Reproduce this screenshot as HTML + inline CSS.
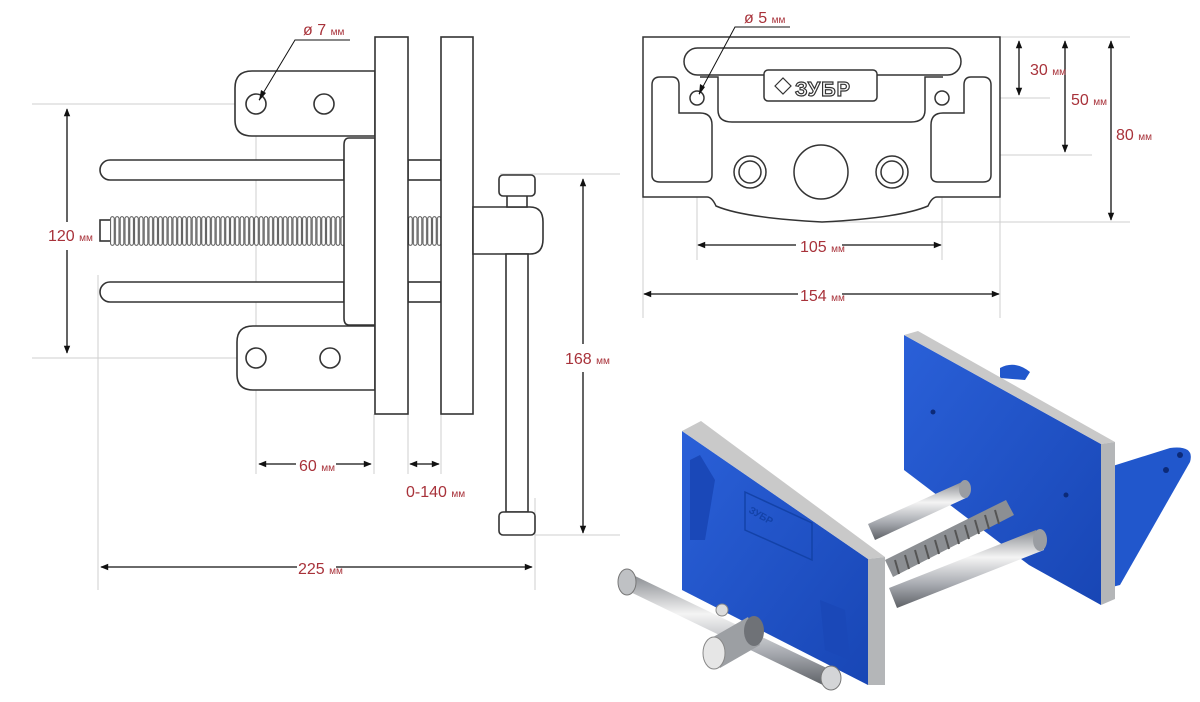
<!DOCTYPE html>
<html><head><meta charset="utf-8">
<style>
html,body{margin:0;padding:0;background:#fff;}
svg{display:block;}
.t{font-family:"Liberation Sans Narrow","Liberation Sans",sans-serif;fill:#a8323a;}
</style></head>
<body>
<svg width="1200" height="702" viewBox="0 0 1200 702" xmlns="http://www.w3.org/2000/svg">
<defs>
<pattern id="thr" x="110" y="216" width="4.8" height="30" patternUnits="userSpaceOnUse">
<rect x="0" y="0" width="4.8" height="30" fill="#fff"/>
<rect x="0.6" y="0.7" width="3.6" height="28.6" rx="1.8" fill="#fff" stroke="#444" stroke-width="0.9"/>
</pattern>
<pattern id="thr2" x="408" y="216" width="4.8" height="30" patternUnits="userSpaceOnUse">
<rect x="0" y="0" width="4.8" height="30" fill="#fff"/>
<rect x="0.6" y="0.7" width="3.6" height="28.6" rx="1.8" fill="#fff" stroke="#444" stroke-width="0.9"/>
</pattern>
<marker id="ar" viewBox="0 0 10 10" refX="9" refY="5" markerWidth="10" markerHeight="8" orient="auto-start-reverse" markerUnits="userSpaceOnUse">
<path d="M0,1 L10,5 L0,9 Z" fill="#111"/></marker>
<linearGradient id="sil" x1="0" y1="0" x2="0" y2="1"><stop offset="0" stop-color="#8a8d92"/><stop offset="0.35" stop-color="#f4f4f4"/><stop offset="0.7" stop-color="#a7aab0"/><stop offset="1" stop-color="#5e6166"/></linearGradient>
<linearGradient id="blu" x1="0" y1="0" x2="1" y2="1"><stop offset="0" stop-color="#2a60d8"/><stop offset="1" stop-color="#1846b5"/></linearGradient>
</defs>

<!-- ===== LEFT DRAWING ===== -->
<g stroke="#cfcfcf" stroke-width="1" fill="none">
<line x1="32" y1="104" x2="345" y2="104"/>
<line x1="32" y1="358" x2="345" y2="358"/>
<line x1="256" y1="92" x2="256" y2="474"/>
<line x1="98" y1="275" x2="98" y2="590"/>
<line x1="374" y1="414" x2="374" y2="474"/>
<line x1="408" y1="414" x2="408" y2="474"/>
<line x1="441" y1="414" x2="441" y2="474"/>
<line x1="535" y1="498" x2="535" y2="590"/>
<line x1="500" y1="174" x2="620" y2="174"/>
<line x1="535" y1="535" x2="620" y2="535"/>
</g>
<g stroke="#333" stroke-width="1.6" fill="#fff">
<path d="M110,160 L344,160 L344,180 L110,180 A10,10 0 0 1 110,160 Z"/>
<path d="M110,282 L344,282 L344,302 L110,302 A10,10 0 0 1 110,282 Z"/>
<rect x="408" y="160" width="33" height="20"/>
<rect x="408" y="282" width="33" height="20"/>
<rect x="100" y="220" width="11" height="21"/>
</g>
<rect x="110" y="216" width="234" height="30" fill="url(#thr)"/>
<rect x="408" y="216" width="33" height="30" fill="url(#thr2)"/>
<g stroke="#333" stroke-width="1.6" fill="#fff">
<path d="M375,71 L252,71 Q235,71 235,88 L235,120 Q235,136 252,136 L375,136 Z"/>
<path d="M375,326 L253,326 Q237,326 237,342 L237,374 Q237,390 253,390 L375,390 Z"/>
<circle cx="256" cy="104" r="10"/><circle cx="324" cy="104" r="10"/>
<circle cx="256" cy="358" r="10"/><circle cx="330" cy="358" r="10"/>
<path d="M375,138 L349,138 Q344,138 344,145 L344,318 Q344,325 349,325 L375,325 Z"/>
<rect x="375" y="37" width="33" height="377"/>
<rect x="441" y="37" width="32" height="377"/>
<path d="M473,207 L530,207 Q543,207 543,222 L543,239 Q543,254 530,254 L473,254 Z"/>
<rect x="506" y="254" width="22" height="258"/>
<rect x="507" y="195" width="20" height="12"/>
<rect x="499" y="175" width="36" height="21" rx="4"/>
<rect x="499" y="512" width="36" height="23" rx="4"/>
</g>
<g stroke="#111" stroke-width="1.3" fill="none">
<line x1="67" y1="109" x2="67" y2="222" marker-start="url(#ar)"/>
<line x1="67" y1="250" x2="67" y2="353" marker-end="url(#ar)"/>
<line x1="259" y1="464" x2="296" y2="464" marker-start="url(#ar)"/>
<line x1="336" y1="464" x2="371" y2="464" marker-end="url(#ar)"/>
<line x1="410" y1="464" x2="439" y2="464" marker-start="url(#ar)" marker-end="url(#ar)"/>
<line x1="583" y1="179" x2="583" y2="344" marker-start="url(#ar)"/>
<line x1="583" y1="372" x2="583" y2="533" marker-end="url(#ar)"/>
<line x1="101" y1="567" x2="297" y2="567" marker-start="url(#ar)"/>
<line x1="336" y1="567" x2="532" y2="567" marker-end="url(#ar)"/>
<polyline points="350,40 295,40 259,100" stroke-width="1"/>
</g>
<path d="M259,101 L261,90 L266,93 Z" fill="#111"/>
<text class="t" x="48" y="241" font-size="16">120 <tspan font-size="10">мм</tspan></text>
<text class="t" x="299" y="471" font-size="16">60 <tspan font-size="10">мм</tspan></text>
<text class="t" x="406" y="497" font-size="16">0-140 <tspan font-size="10">мм</tspan></text>
<text class="t" x="565" y="364" font-size="16">168 <tspan font-size="10">мм</tspan></text>
<text class="t" x="298" y="574" font-size="16">225 <tspan font-size="10">мм</tspan></text>
<text class="t" x="303" y="35" font-size="16">ø 7 <tspan font-size="10">мм</tspan></text>

<!-- ===== RIGHT TOP PLATE ===== -->
<g stroke="#cfcfcf" stroke-width="1" fill="none">
<line x1="1000" y1="37" x2="1130" y2="37"/>
<line x1="940" y1="98" x2="1050" y2="98"/>
<line x1="885" y1="155" x2="1092" y2="155"/>
<line x1="822" y1="222" x2="1130" y2="222"/>
<line x1="697" y1="98" x2="697" y2="260"/>
<line x1="942" y1="98" x2="942" y2="260"/>
<line x1="643" y1="197" x2="643" y2="318"/>
<line x1="1000" y1="197" x2="1000" y2="318"/>
</g>
<g stroke="#333" stroke-width="1.5" fill="#fff">
<path d="M643,37 L1000,37 L1000,197 L937,197 Q932,197 928,206 Q900,218 822,222 Q744,218 716,206 Q712,197 707,197 L643,197 Z"/>
<rect x="684" y="48" width="277" height="27" rx="13.5"/>
<path d="M652,85 Q652,77 660,77 L672,77 Q679,77 679,85 L679,113 L700,113 Q712,113 712,125 L712,175 Q712,182 705,182 L660,182 Q652,182 652,175 Z"/>
<path d="M991,85 Q991,77 983,77 L971,77 Q964,77 964,85 L964,113 L943,113 Q931,113 931,125 L931,175 Q931,182 938,182 L983,182 Q991,182 991,175 Z"/>
<path d="M700,77 L718,77 L718,110 Q718,122 732,122 L911,122 Q925,122 925,110 L925,77 L943,77" fill="none"/>
<rect x="764" y="70" width="113" height="31" rx="4"/>
<circle cx="697" cy="98" r="7"/><circle cx="942" cy="98" r="7"/>
<circle cx="750" cy="172" r="16"/><circle cx="750" cy="172" r="11"/>
<circle cx="892" cy="172" r="16"/><circle cx="892" cy="172" r="11"/>
<circle cx="821" cy="172" r="27"/>
</g>
<text x="795" y="96" font-family="Liberation Sans" font-weight="bold" font-size="20" fill="#fff" stroke="#333" stroke-width="1.2" letter-spacing="1">ЗУБР</text>
<path d="M775,86 L783,78 L791,86 L783,94 Z" fill="none" stroke="#333" stroke-width="1.2"/>
<g stroke="#111" stroke-width="1.3" fill="none">
<line x1="1019" y1="41" x2="1019" y2="95" marker-start="url(#ar)" marker-end="url(#ar)"/>
<line x1="1065" y1="41" x2="1065" y2="152" marker-start="url(#ar)" marker-end="url(#ar)"/>
<line x1="1111" y1="41" x2="1111" y2="220" marker-start="url(#ar)" marker-end="url(#ar)"/>
<line x1="698" y1="245" x2="796" y2="245" marker-start="url(#ar)"/>
<line x1="842" y1="245" x2="941" y2="245" marker-end="url(#ar)"/>
<line x1="644" y1="294" x2="798" y2="294" marker-start="url(#ar)"/>
<line x1="842" y1="294" x2="999" y2="294" marker-end="url(#ar)"/>
<polyline points="790,27 735,27 699,94" stroke-width="1"/>
</g>
<path d="M699,95 L700,84 L705,87 Z" fill="#111"/>
<text class="t" x="744" y="23" font-size="16">ø 5 <tspan font-size="10">мм</tspan></text>
<text class="t" x="1030" y="75" font-size="16">30 <tspan font-size="10">мм</tspan></text>
<text class="t" x="1071" y="105" font-size="16">50 <tspan font-size="10">мм</tspan></text>
<text class="t" x="1116" y="140" font-size="16">80 <tspan font-size="10">мм</tspan></text>
<text class="t" x="800" y="252" font-size="16">105 <tspan font-size="10">мм</tspan></text>
<text class="t" x="800" y="301" font-size="16">154 <tspan font-size="10">мм</tspan></text>

<!-- ===== PHOTO (stylized) ===== -->
<path d="M1100,470 L1170,448 Q1195,445 1190,462 L1120,585 L1100,590 Z" fill="#2157cc"/>
<circle cx="1166" cy="470" r="3" fill="#0c2a78"/><circle cx="1180" cy="455" r="3" fill="#0c2a78"/>
<path d="M1000,368 Q1015,360 1030,372 L1025,380 L1000,378 Z" fill="#2157cc"/>
<path d="M904,335 L1101,444 L1101,605 L1029,565 L904,470 Z" fill="url(#blu)"/>
<path d="M904,335 L918,331 L1115,442 L1101,444 Z" fill="#c9c9c9"/>
<path d="M1101,444 L1115,442 L1115,599 L1101,605 Z" fill="#b4b6b8"/>
<circle cx="933" cy="412" r="2.5" fill="#0c2a78"/><circle cx="1066" cy="495" r="2.5" fill="#0c2a78"/>
<path d="M868,524 L962,482 L968,497 L875,540 Z" fill="url(#sil)"/>
<ellipse cx="965" cy="489" rx="6" ry="9" fill="#9a9da2"/>
<path d="M885,560 L1006,500 L1014,515 L893,577 Z" fill="#8c8f93"/>
<g stroke="#555" stroke-width="2">
<line x1="895" y1="560" x2="899" y2="574"/><line x1="905" y1="555" x2="909" y2="569"/><line x1="915" y1="550" x2="919" y2="564"/><line x1="925" y1="545" x2="929" y2="559"/><line x1="935" y1="540" x2="939" y2="554"/><line x1="945" y1="535" x2="949" y2="549"/><line x1="955" y1="530" x2="959" y2="544"/><line x1="965" y1="525" x2="969" y2="539"/><line x1="975" y1="520" x2="979" y2="534"/><line x1="985" y1="515" x2="989" y2="529"/><line x1="995" y1="510" x2="999" y2="524"/>
</g>
<path d="M889,588 L1036,530 L1044,550 L897,608 Z" fill="url(#sil)"/>
<ellipse cx="1040" cy="540" rx="7" ry="11" fill="#9a9da2"/>
<path d="M682,431 L868,559 L868,685 L682,590 Z" fill="url(#blu)"/>
<path d="M682,431 L701,421 L885,557 L868,559 Z" fill="#c9c9c9"/>
<path d="M868,559 L885,557 L885,685 L868,685 Z" fill="#b4b6b8"/>
<path d="M745,492 L812,523 L812,560 L745,530 Z" fill="none" stroke="#1342a8" stroke-width="1.5"/>
<text x="748" y="512" font-family="Liberation Sans" font-weight="bold" font-size="10" fill="#1342a8" transform="rotate(30 748 512)">ЗУБР</text>
<path d="M690,460 L700,455 L715,480 L705,540 L690,540 Z" fill="#1a48b8"/>
<path d="M820,600 L845,610 L850,660 L825,650 Z" fill="#1a48b8"/>
<circle cx="722" cy="610" r="6" fill="#dcdcdc" stroke="#888"/>
<circle cx="795" cy="662" r="6" fill="#dcdcdc" stroke="#888"/>
<path d="M622,588 L633,575 L835,672 L825,686 Z" fill="url(#sil)"/>
<ellipse cx="627" cy="582" rx="9" ry="13" fill="#bfc1c4" stroke="#777"/>
<ellipse cx="831" cy="678" rx="10" ry="12" fill="#d4d5d7" stroke="#777"/>
<path d="M708,640 L748,617 L760,645 L720,668 Z" fill="#9c9fa3"/>
<ellipse cx="754" cy="631" rx="10" ry="15" fill="#6f7277"/>
<ellipse cx="714" cy="653" rx="11" ry="16" fill="#e6e6e6" stroke="#888"/>
</svg>
</body></html>
